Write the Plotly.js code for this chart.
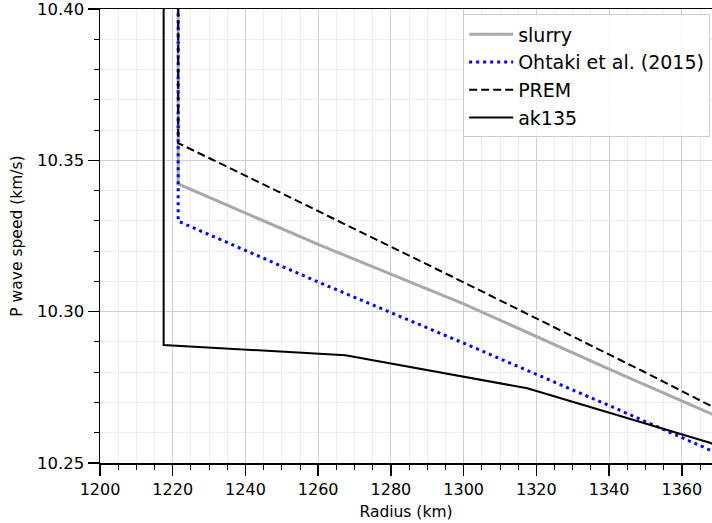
<!DOCTYPE html>
<html>
<head>
<meta charset="utf-8">
<script src="https://cdn.plot.ly/plotly-3.0.1.min.js"></script>
<style>html,body{margin:0;padding:0;background:#fff;}#chart{width:712px;height:523px;}</style>
</head>
<body>
<div id="chart"></div>
<script>
// Radius (km) and P wave speed (km/s)
const slurryR = [1221.5, 1221.5, 1260, 1300, 1340, 1380];
const slurryV = [11.00, 10.3422, 10.3222, 10.3026, 10.2810, 10.2600];

const ohtakiR = [1221.5, 1221.5, 1260, 1300, 1340, 1380];
const ohtakiV = [11.00, 10.3299, 10.3098, 10.2896, 10.2690, 10.2478];

const premR = [1221.5, 1221.5, 1250, 1300, 1350, 1380];
const premV = [11.0266, 10.3557, 10.3391, 10.3097, 10.2799, 10.2615];

const akR = [1217.5, 1217.5, 1267.5, 1317.5, 1367.5, 1417.5];
const akV = [11.0427, 10.2890, 10.2856, 10.2747, 10.2568, 10.2330];

const xTitle = 'Radius (km)';
const yTitle = 'P wave speed (km/s)';

const font = {family: 'DejaVu Sans', color: '#000'};

const traces = [
  {x: slurryR, y: slurryV, name: 'slurry', mode: 'lines', line: {color: '#a9a9a9', width: 3}},
  {x: ohtakiR, y: ohtakiV, name: 'Ohtaki et al. (2015)', mode: 'lines', line: {color: '#0000ff', width: 3, dash: '3px,4px'}},
  {x: premR, y: premV, name: 'PREM', mode: 'lines', line: {color: '#000', width: 2, dash: '8px,4px'}},
  {x: akR, y: akV, name: 'ak135', mode: 'lines', line: {color: '#000', width: 2}}
];

const layout = {
  width: 712, height: 523,
  margin: {l: 100, r: 0, t: 9, b: 60, pad: 0},
  paper_bgcolor: '#fff', plot_bgcolor: '#fff',
  font: Object.assign({size: 16}, font),
  showlegend: true,
  legend: {
    x: 0.997, y: 0.988, xanchor: 'right', yanchor: 'top',
    bgcolor: 'rgba(255,255,255,0.85)', bordercolor: '#cccccc', borderwidth: 1,
    itemwidth: 44, tracegroupgap: 0,
    font: Object.assign({size: 19}, font)
  },
  xaxis: {
    range: [1200, 1368.3], dtick: 20, tick0: 1200,
    showline: true, linecolor: '#000', linewidth: 1.5, mirror: true,
    ticks: 'outside', ticklen: 11, tickwidth: 1.5, tickcolor: '#000',
    showgrid: true, gridcolor: '#d0d0d0', gridwidth: 1, zeroline: false,
    tickfont: Object.assign({size: 16}, font),
    ticklabeloverflow: 'allow',
    minor: {dtick: 5, tick0: 1200, ticks: 'outside', ticklen: 5, tickwidth: 1, tickcolor: '#000', showgrid: true, gridcolor: '#ededed', gridwidth: 1},
    title: {text: xTitle, font: Object.assign({size: 15.5}, font), standoff: 8}
  },
  yaxis: {
    range: [10.25, 10.40001], dtick: 0.05, tick0: 10.25, tickformat: '.2f',
    showline: true, linecolor: '#000', linewidth: 1.5,
    ticks: 'outside', ticklen: 11, tickwidth: 1.5, tickcolor: '#000',
    showgrid: true, gridcolor: '#d0d0d0', gridwidth: 1, zeroline: false,
    tickfont: Object.assign({size: 16.5}, font),
    ticklabeloverflow: 'allow',
    minor: {dtick: 0.01, tick0: 10.25, ticks: 'outside', ticklen: 5, tickwidth: 1, tickcolor: '#000', showgrid: true, gridcolor: '#ededed', gridwidth: 1},
    title: {text: yTitle, font: Object.assign({size: 15.5}, font), standoff: 10}
  }
};

Plotly.newPlot('chart', traces, layout, {displayModeBar: false, staticPlot: true});
</script>
</body>
</html>
